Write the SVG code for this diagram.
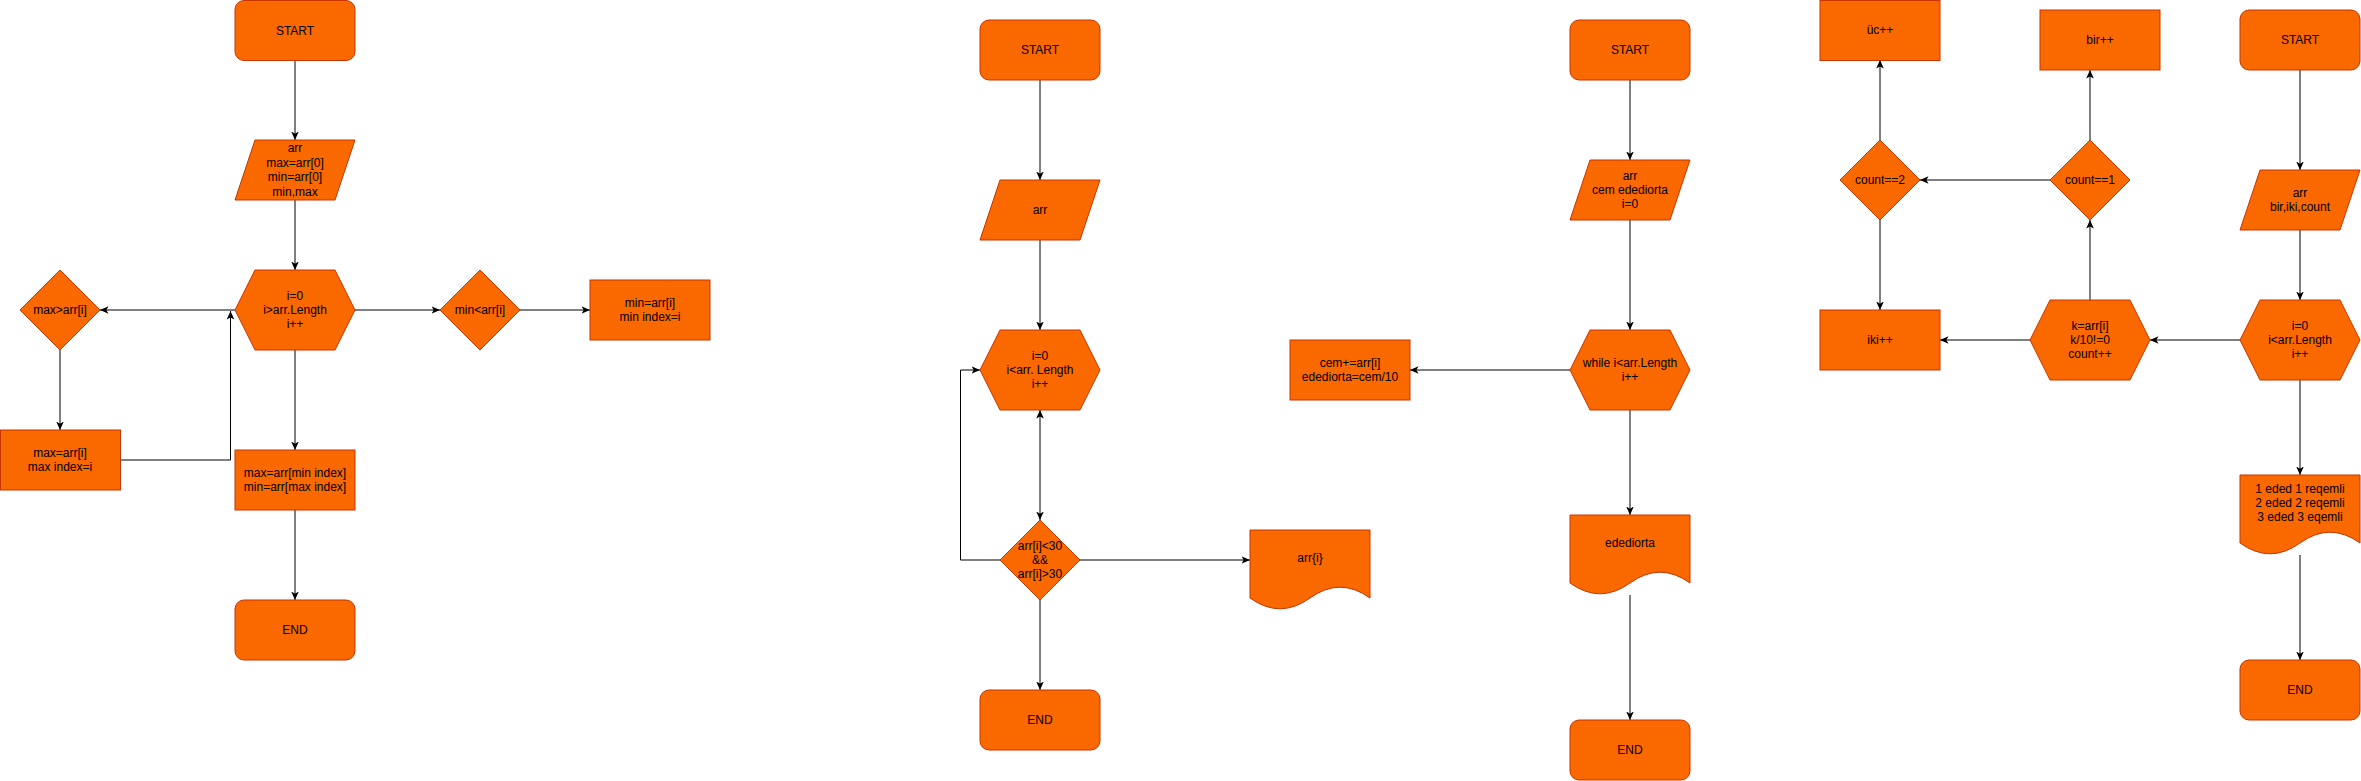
<svg xmlns="http://www.w3.org/2000/svg" width="2361" height="781" viewBox="0 0 2361 781">
<style>
.n{fill:#fa6800;stroke:#C73500;stroke-width:1}
.t{font-family:"Liberation Sans",Arial,sans-serif;font-size:12px;fill:#000;text-anchor:middle}
.e{fill:none;stroke:#000;stroke-width:1;marker-end:url(#a)}
.b{marker-start:url(#a)}
</style>
<defs>
<marker id="a" viewBox="0 0 10 10" refX="10" refY="5" markerWidth="8.5" markerHeight="8.5" markerUnits="userSpaceOnUse" orient="auto-start-reverse"><path d="M0,0.5 L10,5 L0,9.5 L2.5,5 Z" fill="#000"/></marker>
</defs>
<rect width="2361" height="781" fill="#fff"/>
<g id="connectors">
<path class="e" d="M295,61 V140"/>
<path class="e" d="M295,200 V270"/>
<path class="e" d="M235,310 H100"/>
<path class="e" d="M355,310 H440"/>
<path class="e" d="M520,310 H590"/>
<path class="e" d="M60,350 V430"/>
<path class="e" d="M120,460 H230.5 V311"/>
<path class="e" d="M295,350 V450"/>
<path class="e" d="M295,510 V600"/>
<path class="e" d="M1040,80 V180"/>
<path class="e" d="M1040,240 V330"/>
<path class="e b" d="M1040,410 V520"/>
<path class="e" d="M1000,560 H960.5 V370 H980"/>
<path class="e" d="M1080,560 H1250"/>
<path class="e" d="M1040,600 V690"/>
<path class="e" d="M1630,80 V160"/>
<path class="e" d="M1630,220 V330"/>
<path class="e" d="M1570,370 H1410"/>
<path class="e" d="M1630,410 V515"/>
<path class="e" d="M1630,595 V720"/>
<path class="e" d="M2300,70 V170"/>
<path class="e" d="M2300,230 V300"/>
<path class="e" d="M2240,340 H2150"/>
<path class="e" d="M2030,340 H1940"/>
<path class="e" d="M2090,300 V220"/>
<path class="e" d="M2050,180 H1920"/>
<path class="e" d="M2090,140 V70"/>
<path class="e" d="M1880,140 V60"/>
<path class="e" d="M1880,220 V310"/>
<path class="e" d="M2300,380 V475"/>
<path class="e" d="M2300,555 V660"/>
</g>
<g id="d1-start"><rect class="n" x="235" y="0.5" width="120" height="60" rx="9"/><text class="t" x="295" y="34.5">START</text></g>
<g id="d1-input"><polygon class="n" points="255,140 355,140 335,200 235,200"/><text class="t" x="295" y="152.4">arr</text><text class="t" x="295" y="166.8">max=arr[0]</text><text class="t" x="295" y="181.2">min=arr[0]</text><text class="t" x="295" y="195.6">min,max</text></g>
<g id="d1-loop"><polygon class="n" points="235,310 255,270 335,270 355,310 335,350 255,350"/><text class="t" x="295" y="299.6">i=0</text><text class="t" x="295" y="314">i&gt;arr.Length</text><text class="t" x="295" y="328.4">i++</text></g>
<g id="d1-maxcond"><polygon class="n" points="60,270 100,310 60,350 20,310"/><text class="t" x="60" y="314">max&gt;arr[i]</text></g>
<g id="d1-mincond"><polygon class="n" points="480,270 520,310 480,350 440,310"/><text class="t" x="480" y="314">min&lt;arr[i]</text></g>
<g id="d1-minset"><rect class="n" x="590" y="280" width="120" height="60"/><text class="t" x="650" y="306.8">min=arr[i]</text><text class="t" x="650" y="321.2">min index=i</text></g>
<g id="d1-maxset"><rect class="n" x="0.5" y="430" width="120" height="60"/><text class="t" x="60" y="456.8">max=arr[i]</text><text class="t" x="60" y="471.2">max index=i</text></g>
<g id="d1-swap"><rect class="n" x="235" y="450" width="120" height="60"/><text class="t" x="295" y="476.8">max=arr[min index]</text><text class="t" x="295" y="491.2">min=arr[max index]</text></g>
<g id="d1-end"><rect class="n" x="235" y="600" width="120" height="60" rx="9"/><text class="t" x="295" y="634">END</text></g>
<g id="d2-start"><rect class="n" x="980" y="20" width="120" height="60" rx="9"/><text class="t" x="1040" y="54">START</text></g>
<g id="d2-input"><polygon class="n" points="1000,180 1100,180 1080,240 980,240"/><text class="t" x="1040" y="214">arr</text></g>
<g id="d2-loop"><polygon class="n" points="980,370 1000,330 1080,330 1100,370 1080,410 1000,410"/><text class="t" x="1040" y="359.6">i=0</text><text class="t" x="1040" y="374">i&lt;arr. Length</text><text class="t" x="1040" y="388.4">i++</text></g>
<g id="d2-cond"><polygon class="n" points="1040,520 1080,560 1040,600 1000,560"/><text class="t" x="1040" y="549.6">arr[i]&lt;30</text><text class="t" x="1040" y="564">&amp;&amp;</text><text class="t" x="1040" y="578.4">arr[i]&gt;30</text></g>
<g id="d2-output"><path class="n" d="M1250,530 H1370 V598 Q1340,576.4 1310,598 Q1280,619.6 1250,598 Z"/><text class="t" x="1310" y="562">arr{i}</text></g>
<g id="d2-end"><rect class="n" x="980" y="690" width="120" height="60" rx="9"/><text class="t" x="1040" y="724">END</text></g>
<g id="d3-start"><rect class="n" x="1570" y="20" width="120" height="60" rx="9"/><text class="t" x="1630" y="54">START</text></g>
<g id="d3-input"><polygon class="n" points="1590,160 1690,160 1670,220 1570,220"/><text class="t" x="1630" y="179.6">arr</text><text class="t" x="1630" y="194">cem edediorta</text><text class="t" x="1630" y="208.4">i=0</text></g>
<g id="d3-loop"><polygon class="n" points="1570,370 1590,330 1670,330 1690,370 1670,410 1590,410"/><text class="t" x="1630" y="366.8">while i&lt;arr.Length</text><text class="t" x="1630" y="381.2">i++</text></g>
<g id="d3-calc"><rect class="n" x="1290" y="340" width="120" height="60"/><text class="t" x="1350" y="366.8">cem+=arr[i]</text><text class="t" x="1350" y="381.2">edediorta=cem/10</text></g>
<g id="d3-output"><path class="n" d="M1570,515 H1690 V583 Q1660,561.4 1630,583 Q1600,604.6 1570,583 Z"/><text class="t" x="1630" y="547">edediorta</text></g>
<g id="d3-end"><rect class="n" x="1570" y="720" width="120" height="60" rx="9"/><text class="t" x="1630" y="754">END</text></g>
<g id="d4-uc"><rect class="n" x="1820" y="0.5" width="120" height="60"/><text class="t" x="1880" y="34">üc++</text></g>
<g id="d4-bir"><rect class="n" x="2040" y="10" width="120" height="60"/><text class="t" x="2100" y="44">bir++</text></g>
<g id="d4-start"><rect class="n" x="2240" y="10" width="120" height="60" rx="9"/><text class="t" x="2300" y="44">START</text></g>
<g id="d4-count2"><polygon class="n" points="1880,140 1920,180 1880,220 1840,180"/><text class="t" x="1880" y="184">count==2</text></g>
<g id="d4-count1"><polygon class="n" points="2090,140 2130,180 2090,220 2050,180"/><text class="t" x="2090" y="184">count==1</text></g>
<g id="d4-input"><polygon class="n" points="2260,170 2360,170 2340,230 2240,230"/><text class="t" x="2300" y="196.8">arr</text><text class="t" x="2300" y="211.2">bir,iki,count</text></g>
<g id="d4-iki"><rect class="n" x="1820" y="310" width="120" height="60"/><text class="t" x="1880" y="344">iki++</text></g>
<g id="d4-calc"><polygon class="n" points="2030,340 2050,300 2130,300 2150,340 2130,380 2050,380"/><text class="t" x="2090" y="329.6">k=arr[i]</text><text class="t" x="2090" y="344">k/10!=0</text><text class="t" x="2090" y="358.4">count++</text></g>
<g id="d4-loop"><polygon class="n" points="2240,340 2260,300 2340,300 2360,340 2340,380 2260,380"/><text class="t" x="2300" y="329.6">i=0</text><text class="t" x="2300" y="344">i&lt;arr.Length</text><text class="t" x="2300" y="358.4">i++</text></g>
<g id="d4-output"><path class="n" d="M2240,475 H2360 V543 Q2330,521.4 2300,543 Q2270,564.6 2240,543 Z"/><text class="t" x="2300" y="492.6">1 eded 1 reqemli</text><text class="t" x="2300" y="507">2 eded 2 reqemli</text><text class="t" x="2300" y="521.4">3 eded 3 eqemli</text></g>
<g id="d4-end"><rect class="n" x="2240" y="660" width="120" height="60" rx="9"/><text class="t" x="2300" y="694">END</text></g>
</svg>
